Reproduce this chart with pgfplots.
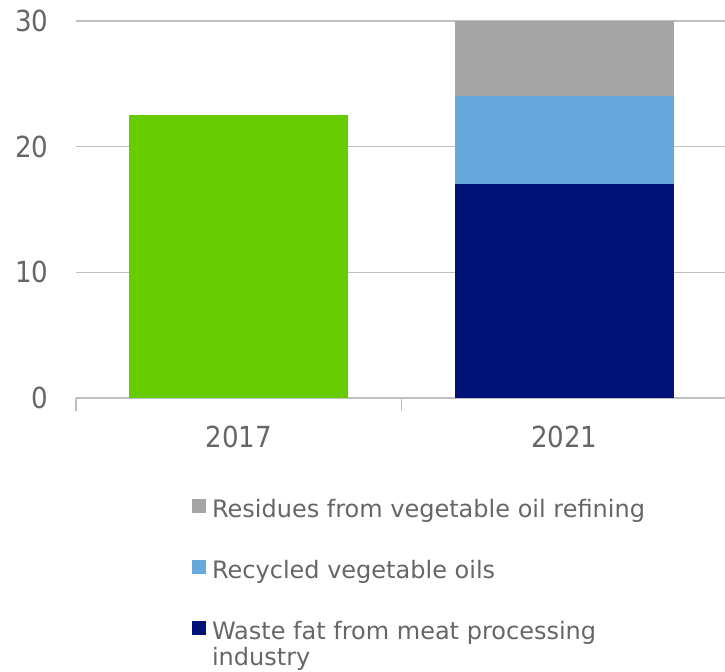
\documentclass[border=0pt]{standalone}
\usepackage{pgfplots}
\pgfplotsset{compat=1.18}
\usepackage{fontspec}
\setmainfont{DejaVu Sans Condensed}
\newfontfamily\legfont{DejaVu Sans}
\definecolor{cgreen}{HTML}{66CC00}
\definecolor{cnavy}{HTML}{001277}
\definecolor{cblue}{HTML}{66AADD}
\definecolor{cgray}{HTML}{A5A5A5}
\definecolor{gridgray}{HTML}{BFBFBF}
\definecolor{textgray}{HTML}{666666}
\begin{document}
\begin{tikzpicture}
\useasboundingbox (0,0) rectangle (725bp,672bp);
\begin{axis}[
  at={(76bp,274bp)}, anchor=south west,
  scale only axis, width=651bp, height=377bp,
  xmin=0, xmax=2, ymin=0, ymax=30,
  ybar stacked, bar width=219bp,
  xtick={0.5,1.5}, xticklabels={2017,2021},
  minor xtick={0,1,2},
  ytick={0,10,20,30},
  /pgf/number format/assume math mode=true,
  ymajorgrids, grid style={color=gridgray, line width=1.2bp},
  axis x line*=bottom, axis y line*=left,
  y axis line style={draw=none},
  x axis line style={gridgray, line width=1.2bp, -},
  tick align=outside,
  major tick length=0pt, minor tick length=13bp,
  every minor tick/.style={gridgray, line width=1.2bp},
  tick label style={font=\fontsize{29bp}{34bp}\selectfont, color=textgray},
  yticklabel style={xshift=-24bp},
  xticklabel style={yshift=-24bp},
  legend style={at={(0.1782,-0.265)}, anchor=north west, draw=none, fill=none,
    inner sep=0pt, outer sep=0pt, row sep=35bp,
    font=\legfont\fontsize{24bp}{26bp}\selectfont, text=textgray,
    nodes={inner sep=0pt, text height=20bp, text depth=6bp},
    /tikz/every odd column/.append style={column sep=6bp}},
  legend cell align=left,
  reverse legend,
  legend image code/.code={\fill[#1] (0bp,-2bp) rectangle (14bp,12bp);},
]
\addplot[fill=cgreen, draw=none, forget plot] coordinates {(0.5,22.5) (1.5,0)};
\addplot[fill=cnavy, draw=none] coordinates {(0.5,0) (1.5,17)};
\addplot[fill=cblue, draw=none] coordinates {(0.5,0) (1.5,7)};
\addplot[fill=cgray, draw=none] coordinates {(0.5,0) (1.5,6)};
\legend{{\begin{tabular}[t]{@{}l@{}}Waste fat from meat processing\\industry\end{tabular}}, Recycled vegetable oils, Residues from vegetable oil refining}
\end{axis}
\end{tikzpicture}
\end{document}
